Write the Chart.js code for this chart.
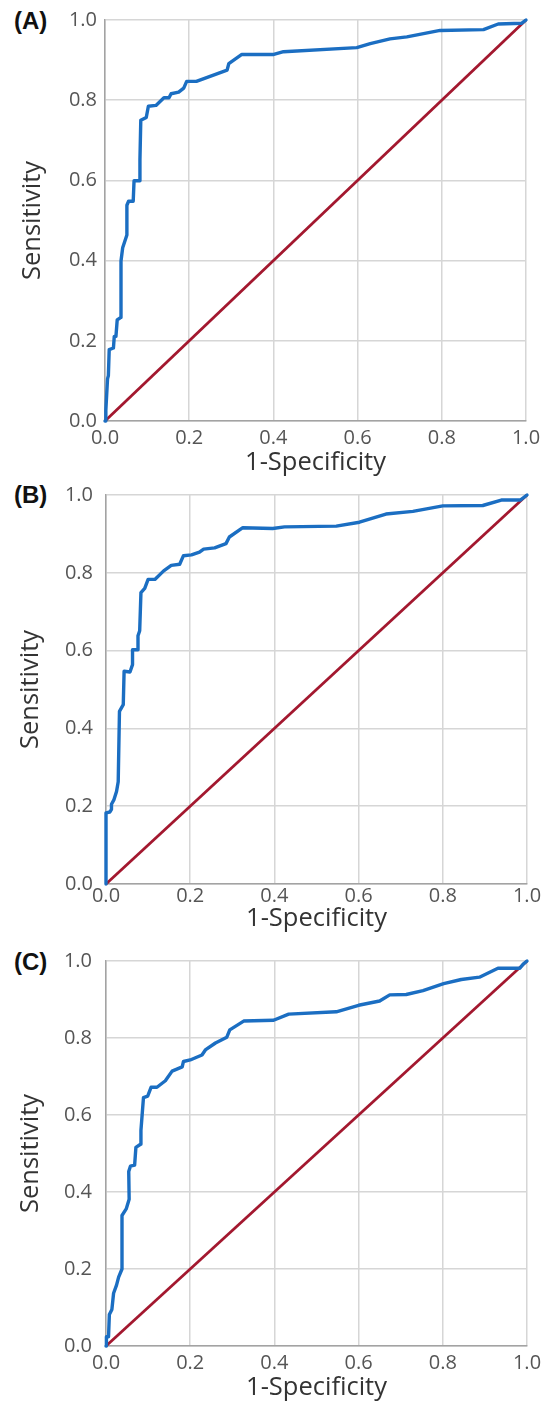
<!DOCTYPE html>
<html>
<head>
<meta charset="utf-8">
<script src="https://cdn.jsdelivr.net/npm/chart.js@4.4.1/dist/chart.umd.min.js"></script>
<style>
  html, body { margin: 0; padding: 0; background: #fff; }
  body { width: 554px; height: 1403px; position: relative; overflow: hidden; }
  canvas { position: absolute; left: 0; }
  .panel-label {
    position: absolute; left: 14px;
    font: bold 24px "Liberation Sans", Arial, sans-serif; color: #111;
  }
</style>
</head>
<body>
<div class="panel-label" style="top:7px">(A)</div>
<div class="panel-label" style="top:481px">(B)</div>
<div class="panel-label" style="top:948px">(C)</div>
<canvas id="rocA" width="554" height="480" style="top:0px"></canvas>
<canvas id="rocB" width="554" height="480" style="top:470px"></canvas>
<canvas id="rocC" width="554" height="468" style="top:935px"></canvas>
<script>
const tickLabels = ["0.0", "0.2", "0.4", "0.6", "0.8", "1.0"];

// reference line
const diagX = [0, 1];
const diagY = [0, 1];

// (A)
const aX = [0, 0.002, 0.006, 0.008, 0.010, 0.020, 0.022, 0.026, 0.029, 0.037, 0.038, 0.042, 0.052, 0.052, 0.056, 0.067, 0.069, 0.082, 0.083, 0.085, 0.098, 0.103, 0.121, 0.140, 0.152, 0.157, 0.175, 0.187, 0.194, 0.217, 0.290, 0.294, 0.325, 0.401, 0.424, 0.598, 0.630, 0.677, 0.717, 0.796, 0.899, 0.934, 0.990, 1.0];
const aY = [0, 0.027, 0.105, 0.113, 0.178, 0.182, 0.211, 0.211, 0.252, 0.258, 0.399, 0.432, 0.464, 0.538, 0.548, 0.548, 0.599, 0.599, 0.652, 0.750, 0.757, 0.785, 0.787, 0.806, 0.806, 0.816, 0.820, 0.830, 0.847, 0.847, 0.875, 0.891, 0.914, 0.914, 0.921, 0.931, 0.941, 0.953, 0.958, 0.974, 0.976, 0.990, 0.992, 1.0];

// (B)
const bX = [0, 0, 0.009, 0.013, 0.013, 0.019, 0.025, 0.029, 0.032, 0.041, 0.043, 0.057, 0.063, 0.063, 0.076, 0.076, 0.080, 0.083, 0.092, 0.100, 0.116, 0.137, 0.155, 0.175, 0.184, 0.203, 0.222, 0.232, 0.258, 0.285, 0.293, 0.325, 0.396, 0.424, 0.547, 0.602, 0.665, 0.729, 0.800, 0.895, 0.939, 0.984, 1.0];
const bY = [0, 0.183, 0.185, 0.192, 0.205, 0.217, 0.238, 0.263, 0.444, 0.461, 0.547, 0.545, 0.564, 0.602, 0.602, 0.638, 0.651, 0.749, 0.760, 0.783, 0.783, 0.805, 0.819, 0.822, 0.844, 0.846, 0.853, 0.861, 0.864, 0.875, 0.892, 0.916, 0.914, 0.918, 0.920, 0.930, 0.951, 0.958, 0.972, 0.973, 0.987, 0.987, 1.0];

// (C)
const cX = [0, 0, 0.002, 0.006, 0.008, 0.014, 0.018, 0.025, 0.030, 0.038, 0.038, 0.048, 0.055, 0.054, 0.058, 0.068, 0.071, 0.082, 0.083, 0.089, 0.099, 0.107, 0.121, 0.141, 0.157, 0.181, 0.184, 0.200, 0.228, 0.236, 0.260, 0.287, 0.294, 0.327, 0.398, 0.434, 0.547, 0.600, 0.650, 0.674, 0.713, 0.753, 0.802, 0.844, 0.887, 0.931, 0.983, 0.991, 1.0];
const cY = [0, 0.019, 0.024, 0.024, 0.082, 0.095, 0.137, 0.158, 0.179, 0.200, 0.339, 0.356, 0.381, 0.453, 0.467, 0.470, 0.516, 0.524, 0.560, 0.645, 0.649, 0.672, 0.672, 0.689, 0.714, 0.725, 0.739, 0.743, 0.756, 0.769, 0.787, 0.802, 0.821, 0.844, 0.846, 0.862, 0.868, 0.885, 0.896, 0.912, 0.913, 0.923, 0.941, 0.952, 0.958, 0.981, 0.981, 0.992, 1.0];

const toPoints = (xs, ys) => xs.map((x, i) => ({ x: x, y: ys[i] }));

function plotRoc(canvas, xs, ys, box) {
  const gridColor = "#d6d6d6";
  const axisColor = "#a3a3a3";
  new Chart(canvas, {
    type: "scatter",
    data: {
      datasets: [{
        data: toPoints(xs, ys),
        showLine: true,
        borderColor: "#1b6ec2",
        borderWidth: 3.4,
        borderJoinStyle: "round",
        borderCapStyle: "round",
        pointRadius: 0,
        clip: false
      }, {
        data: toPoints(diagX, diagY),
        showLine: true,
        borderColor: "#a3182f",
        borderWidth: 2.8,
        pointRadius: 0,
        clip: false
      }]
    },
    options: {
      responsive: false,
      animation: false,
      layout: { padding: { top: box.top, right: box.right, left: 0, bottom: 0 } },
      plugins: {
        legend: { display: false },
        tooltip: { enabled: false }
      },
      scales: {
        x: {
          type: "linear",
          min: 0,
          max: 1,
          afterFit: s => { s.height = box.xHeight; },
          grid: { color: gridColor, lineWidth: 1.5, drawTicks: false },
          border: { color: axisColor, width: 1.5 },
          ticks: {
            stepSize: 0.2,
            padding: box.xPad,
            color: "#555",
            font: { family: "Open Sans", size: 20 },
            maxRotation: 0,
            callback: (v, i) => tickLabels[i]
          },
          title: {
            display: true,
            text: "1-Specificity",
            color: "#333",
            font: { family: "Open Sans", size: 25.5 },
            padding: { top: 0, bottom: box.xTitlePad }
          }
        },
        y: {
          min: 0,
          max: 1,
          afterFit: s => { s.width = box.yWidth; },
          grid: { color: gridColor, lineWidth: 1.5, drawTicks: false },
          border: { color: axisColor, width: 1.5 },
          ticks: {
            stepSize: 0.2,
            padding: box.yPad,
            color: "#555",
            font: { family: "Open Sans", size: 20 },
            callback: (v, i) => tickLabels[i]
          },
          title: {
            display: true,
            text: "Sensitivity",
            color: "#333",
            font: { family: "Open Sans", size: 25.5 },
            padding: { top: box.yTitlePad, bottom: 0 }
          }
        }
      }
    }
  });
}

document.addEventListener("DOMContentLoaded", () => {
  plotRoc(document.getElementById("rocA"), aX, aY,
    { top: 14, right: 28, yWidth: 105, xHeight: 59, xPad: 5, yPad: 8, xTitlePad: 2, yTitlePad: 17 });
  plotRoc(document.getElementById("rocB"), bX, bY,
    { top: 18, right: 27, yWidth: 106, xHeight: 66, xPad: 0, yPad: 13, xTitlePad: 16, yTitlePad: 15 });
  plotRoc(document.getElementById("rocC"), cX, cY,
    { top: 15, right: 27, yWidth: 106, xHeight: 57, xPad: 5, yPad: 14, xTitlePad: 0, yTitlePad: 15 });
});
</script>
</body>
</html>
